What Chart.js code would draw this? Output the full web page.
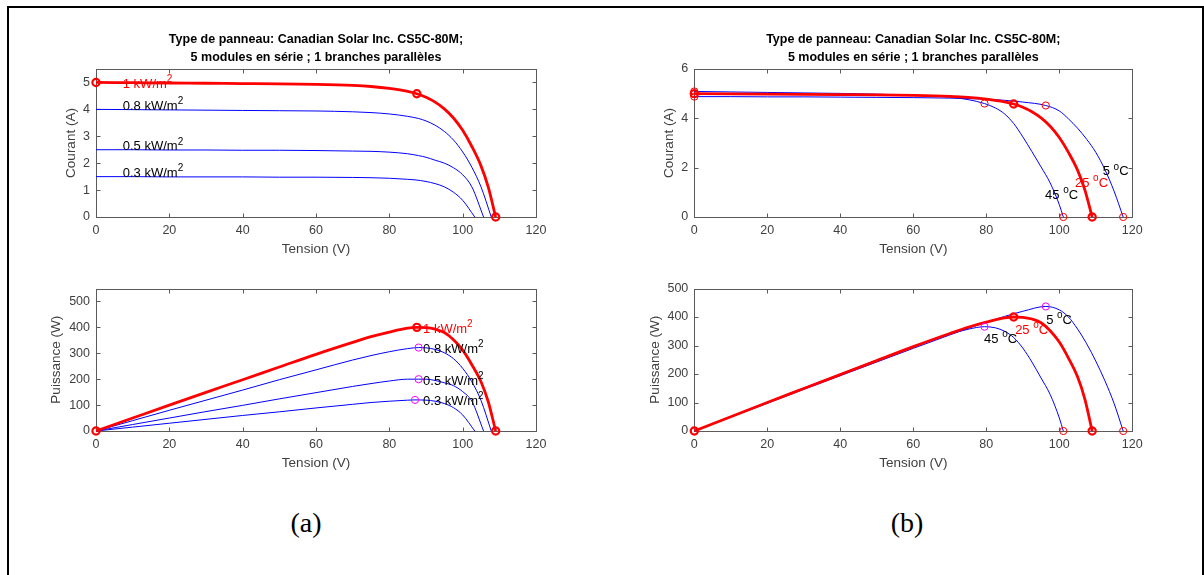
<!DOCTYPE html>
<html>
<head>
<meta charset="utf-8">
<script src="https://cdn.jsdelivr.net/npm/chart.js@4/dist/chart.umd.min.js"></script>
<style>
  html, body { margin: 0; padding: 0; background: #fff; }
  body { width: 1204px; height: 575px; position: relative; overflow: hidden; }
  .frame { position: absolute; left: 7px; top: 6px; width: 1197px; height: 600px; border: 2px solid #000; box-sizing: border-box; }
  canvas { position: absolute; }
  .cap { position: absolute; font-family: "Liberation Serif", "Times New Roman", serif; font-size: 28px; color: #000; transform: translate(-50%, -50%); }
</style>
</head>
<body>
<div class="frame"></div>
<canvas id="ivIrr" width="520" height="240" style="left:40px;top:25px"></canvas>
<canvas id="pvIrr" width="520" height="200" style="left:40px;top:275px"></canvas>
<canvas id="ivTemp" width="520" height="240" style="left:630px;top:25px"></canvas>
<canvas id="pvTemp" width="520" height="200" style="left:630px;top:275px"></canvas>
<div class="cap" style="left:306px;top:523px">(a)</div>
<div class="cap" style="left:907px;top:523px">(b)</div>

<script>
// I-V and P-V curves of a CS5C-80M string (5 modules in series)

// --- data ---
const xTicks = [0, 20, 40, 60, 80, 100, 120];
const iTicksIrr = [0, 1, 2, 3, 4, 5];
const pTicksIrr = [0, 100, 200, 300, 400, 500];
const iTicksTemp = [0, 2, 4, 6];
const pTicksTemp = [0, 100, 200, 300, 400, 500];

// 1 kW/m2, 25 oC (reference curve, used on both sides)
const v1000 = [0, 10, 20, 30, 40, 50, 60, 70, 75, 80, 85, 87.5, 90, 92.5, 95, 97.5, 100, 102.5, 105, 107, 109];
const i1000 = [5.00, 4.99, 4.98, 4.97, 4.96, 4.95, 4.93, 4.89, 4.85, 4.78, 4.67, 4.58, 4.45, 4.27, 4.02, 3.68, 3.22, 2.62, 1.90, 1.10, 0];
const p1000 = [0, 50, 100, 149, 198, 247, 296, 342, 364, 382, 397, 400, 399, 393, 380, 352, 312, 256, 190, 112, 0];

// 0.8 kW/m2
const v800 = [0, 10, 20, 30, 40, 50, 60, 70, 75, 80, 85, 88, 90, 92.5, 95, 97.5, 100, 102.5, 105, 107.8];
const i800 = [4.00, 3.99, 3.98, 3.97, 3.96, 3.95, 3.94, 3.91, 3.88, 3.83, 3.74, 3.66, 3.57, 3.41, 3.18, 2.86, 2.42, 1.85, 1.12, 0];
const p800 = [0, 40, 80, 119, 158, 198, 236, 274, 291, 306, 318, 322, 321, 315, 302, 279, 242, 190, 118, 0];

// 0.5 kW/m2
const v500 = [0, 10, 20, 30, 40, 50, 60, 70, 75, 80, 85, 88, 90, 92.5, 95, 97.5, 100, 102.5, 105.7];
const i500 = [2.50, 2.50, 2.49, 2.49, 2.48, 2.48, 2.47, 2.45, 2.44, 2.41, 2.35, 2.28, 2.22, 2.11, 2.00, 1.83, 1.57, 1.12, 0];
const p500 = [0, 25, 50, 75, 99, 124, 148, 172, 183, 193, 200, 200, 200, 195, 186, 175, 152, 115, 0];

// 0.3 kW/m2
const v300 = [0, 10, 20, 30, 40, 50, 60, 70, 75, 80, 85, 87, 90, 92.5, 95, 97.5, 100, 103.3];
const i300 = [1.50, 1.50, 1.49, 1.49, 1.49, 1.48, 1.48, 1.47, 1.46, 1.44, 1.40, 1.38, 1.32, 1.24, 1.12, 0.92, 0.62, 0];
const p300 = [0, 15, 30, 45, 60, 74, 89, 103, 110, 115, 119, 120, 119, 115, 106, 90, 62, 0];

// 45 oC
const v45 = [0, 10, 20, 30, 40, 50, 60, 65, 70, 75, 79.5, 82.5, 85, 87.5, 90, 92.5, 95, 97.5, 100, 101.1];
const i45 = [5.09, 5.07, 5.05, 5.03, 5.01, 4.98, 4.94, 4.91, 4.86, 4.76, 4.60, 4.42, 4.18, 3.79, 3.25, 2.65, 2.03, 1.38, 0.50, 0];
const p45 = [0, 51, 101, 151, 200, 249, 296, 319, 340, 357, 366, 362, 350, 328, 291, 242, 186, 128, 46, 0];

// 5 oC
const v5 = [0, 10, 20, 30, 40, 50, 60, 70, 75, 80, 85, 90, 96.3, 100, 102.5, 105, 107.5, 110, 112.5, 115, 117.5];
const i5 = [4.88, 4.88, 4.87, 4.87, 4.86, 4.85, 4.84, 4.82, 4.80, 4.78, 4.73, 4.66, 4.52, 4.30, 3.98, 3.60, 3.15, 2.62, 1.92, 1.05, 0];
const p5 = [0, 49, 97, 146, 194, 242, 290, 337, 360, 382, 402, 420, 437, 425, 400, 358, 306, 245, 176, 97, 0];

// marked points: Isc, MPP, Voc of the reference curve
const refMarkV = [0, 87.5, 109];
const refMarkI = [5.00, 4.58, 0];
const refMarkP = [0, 400, 0];
// MPP of the lower irradiances
const mppIrrV = [88, 88, 87];
const mppIrrP = [322, 200, 120];
// 45 oC and 5 oC: Isc, MPP, Voc
const tempMarkV = [0, 79.5, 101.1, 0, 96.3, 117.5];
const tempMarkI = [5.09, 4.60, 0, 4.88, 4.52, 0];
const mppTempV = [79.5, 96.3];
const mppTempP = [366, 437];
const vocTempV = [0, 101.1, 0, 117.5];
const vocTempP = [0, 0, 0, 0];

// curve labels
const irrNames = ['1', '0.8', '0.5', '0.3'];
const irrLabelIvV = [7.3, 7.3, 7.3, 7.3];
const irrLabelIvI = [4.92, 4.10, 2.61, 1.62];
const irrLabelPvV = [89.2, 89.2, 89.2, 89.2];
const irrLabelPvP = [393, 316, 193, 113];
const tempNames = ['45', '25', '5'];
const tempLabelIvV = [96.1, 104.3, 111.9];
const tempLabelIvI = [0.88, 1.36, 1.83];
const tempLabelPvV = [79.4, 87.9, 96.4];
const tempLabelPvP = [323, 354, 389];

const titleLines = ['Type de panneau: Canadian Solar Inc. CS5C-80M;', '5 modules en série ; 1 branches parallèles'];

// --- style ---
const RED = '#ff0000', BLUE = '#0000ff', MAGENTA = '#ff00ff';
const AXIS = '#5a5a5a', TEXT = '#404040';
Chart.defaults.font.family = '"Liberation Sans", Arial, Helvetica, sans-serif';

// --- helpers ---
const xy = (vs, ys) => vs.map((v, k) => ({ x: v, y: ys[k] }));

function curve(vs, ys, color, width) {
  return {
    data: xy(vs, ys), borderColor: color, borderWidth: width,
    pointRadius: 0, cubicInterpolationMode: 'monotone', fill: false, clip: false
  };
}

function marks(vs, ys, color, width) {
  return {
    data: xy(vs, ys), showLine: false, clip: false,
    pointStyle: 'circle', pointRadius: 3.6,
    pointBorderColor: color, pointBorderWidth: width,
    pointBackgroundColor: 'rgba(0,0,0,0)'
  };
}

// MATLAB-like box with inward ticks on all four sides
const axesBox = {
  id: 'axesBox',
  beforeDatasetsDraw(chart) {
    const { ctx, chartArea: a, scales: { x, y } } = chart;
    const L = Math.round(a.left) + 0.5, R = Math.round(a.right) + 0.5;
    const T = Math.round(a.top) + 0.5, B = Math.round(a.bottom) + 0.5;
    ctx.save();
    ctx.strokeStyle = AXIS;
    ctx.lineWidth = 1;
    ctx.strokeRect(L, T, R - L, B - T);
    ctx.beginPath();
    x.ticks.forEach(t => {
      const p = Math.round(x.getPixelForValue(t.value)) + 0.5;
      ctx.moveTo(p, B); ctx.lineTo(p, B - 4);
      ctx.moveTo(p, T); ctx.lineTo(p, T + 4);
    });
    y.ticks.forEach(t => {
      const p = Math.round(y.getPixelForValue(t.value)) + 0.5;
      ctx.moveTo(L, p); ctx.lineTo(L + 4, p);
      ctx.moveTo(R, p); ctx.lineTo(R - 4, p);
    });
    ctx.stroke();
    ctx.restore();
  }
};

// text labels with a superscript part (kW/m^2, ^oC)
function curveLabels(items) {
  return {
    id: 'curveLabels',
    afterDatasetsDraw(chart) {
      const { ctx, scales: { x, y } } = chart;
      ctx.save();
      ctx.textBaseline = 'middle';
      ctx.textAlign = 'left';
      items.forEach(it => {
        let px = x.getPixelForValue(it.x);
        const py = y.getPixelForValue(it.y);
        ctx.fillStyle = it.color;
        ctx.font = '13px "Liberation Sans", Arial, sans-serif';
        ctx.fillText(it.text, px, py);
        px += ctx.measureText(it.text).width;
        ctx.font = '10px "Liberation Sans", Arial, sans-serif';
        ctx.fillText(it.sup, px, py - 5);
        px += ctx.measureText(it.sup).width;
        if (it.tail) {
          ctx.font = '13px "Liberation Sans", Arial, sans-serif';
          ctx.fillText(it.tail, px, py);
        }
      });
      ctx.restore();
    }
  };
}

function panel(id, cfg) {
  return new Chart(document.getElementById(id), {
    type: 'line',
    data: { datasets: cfg.datasets },
    options: {
      responsive: false,
      animation: false,
      events: [],
      layout: { padding: cfg.pad },
      plugins: {
        legend: { display: false },
        tooltip: { enabled: false },
        title: {
          display: cfg.title,
          text: titleLines,
          fullSize: false,
          color: '#000',
          font: { size: 12.5, weight: 'bold', lineHeight: 1.4 },
          padding: { top: 6, bottom: 3 }
        }
      },
      scales: {
        x: {
          type: 'linear', min: 0, max: 120,
          afterBuildTicks: s => { s.ticks = xTicks.map(v => ({ value: v })); },
          afterFit: s => { s.height = cfg.xh; },
          grid: { display: false, drawTicks: false }, border: { display: false },
          ticks: { color: TEXT, font: { size: 12.5 }, padding: 6, maxRotation: 0, autoSkip: false },
          title: { display: true, text: 'Tension (V)', color: TEXT, font: { size: 13.5 }, padding: { top: 0, bottom: cfg.xtp } }
        },
        y: {
          type: 'linear', min: 0, max: cfg.ymax,
          afterBuildTicks: s => { s.ticks = cfg.yTicks.map(v => ({ value: v })); },
          afterFit: s => { s.width = cfg.yw; },
          grid: { display: false, drawTicks: false }, border: { display: false },
          ticks: { color: TEXT, font: { size: 12.5 }, padding: 6, autoSkip: false },
          title: { display: true, text: cfg.ytitle, color: TEXT, font: { size: 13.5 }, padding: { top: cfg.ytp, bottom: 0 } }
        }
      }
    },
    plugins: [axesBox, curveLabels(cfg.labels)]
  });
}

// --- (a) irradiance ---
panel('ivIrr', {
  title: true, pad: { left: 0, right: 24, top: 0, bottom: 0 },
  xh: 48, xtp: 8, yw: 56, ytp: 23.5, ymax: 5.5, yTicks: iTicksIrr, ytitle: 'Courant (A)',
  datasets: [
    marks(refMarkV, refMarkI, RED, 2.2),
    curve(v1000, i1000, RED, 2.8),
    curve(v800, i800, BLUE, 1),
    curve(v500, i500, BLUE, 1),
    curve(v300, i300, BLUE, 1)
  ],
  labels: irrNames.map((n, k) => ({
    x: irrLabelIvV[k], y: irrLabelIvI[k], text: n + ' kW/m', sup: '2', color: k === 0 ? RED : '#000'
  }))
});

panel('pvIrr', {
  title: false, pad: { left: 0, right: 24, top: 10, bottom: 0 },
  xh: 44, xtp: 4, yw: 56, ytp: 8.5, ymax: 550, yTicks: pTicksIrr, ytitle: 'Puissance (W)',
  datasets: [
    marks(refMarkV, refMarkP, RED, 2.2),
    marks(mppIrrV, mppIrrP, MAGENTA, 1),
    curve(v1000, p1000, RED, 2.8),
    curve(v800, p800, BLUE, 1),
    curve(v500, p500, BLUE, 1),
    curve(v300, p300, BLUE, 1)
  ],
  labels: irrNames.map((n, k) => ({
    x: irrLabelPvV[k], y: irrLabelPvP[k], text: n + ' kW/m', sup: '2', color: k === 0 ? RED : '#000'
  }))
});

// --- (b) temperature ---
panel('ivTemp', {
  title: true, pad: { left: 0, right: 17.7, top: 0, bottom: 0 },
  xh: 48, xtp: 8, yw: 64.3, ytp: 31, ymax: 6, yTicks: iTicksTemp, ytitle: 'Courant (A)',
  datasets: [
    marks(refMarkV, refMarkI, RED, 2.2),
    marks(tempMarkV, tempMarkI, RED, 1),
    curve(v1000, i1000, RED, 2.8),
    curve(v45, i45, BLUE, 1),
    curve(v5, i5, BLUE, 1)
  ],
  labels: tempNames.map((n, k) => ({
    x: tempLabelIvV[k], y: tempLabelIvI[k], text: n + ' ', sup: 'o', tail: 'C', color: n === '25' ? RED : '#000'
  }))
});

panel('pvTemp', {
  title: false, pad: { left: 0, right: 17.7, top: 10, bottom: 0 },
  xh: 44, xtp: 4, yw: 64.3, ytp: 17, ymax: 500, yTicks: pTicksTemp, ytitle: 'Puissance (W)',
  datasets: [
    marks(refMarkV, refMarkP, RED, 2.2),
    marks(mppTempV, mppTempP, MAGENTA, 1),
    marks(vocTempV, vocTempP, RED, 1),
    curve(v1000, p1000, RED, 2.8),
    curve(v45, p45, BLUE, 1),
    curve(v5, p5, BLUE, 1)
  ],
  labels: tempNames.map((n, k) => ({
    x: tempLabelPvV[k], y: tempLabelPvP[k], text: n + ' ', sup: 'o', tail: 'C', color: n === '25' ? RED : '#000'
  }))
});
</script>
</body>
</html>
